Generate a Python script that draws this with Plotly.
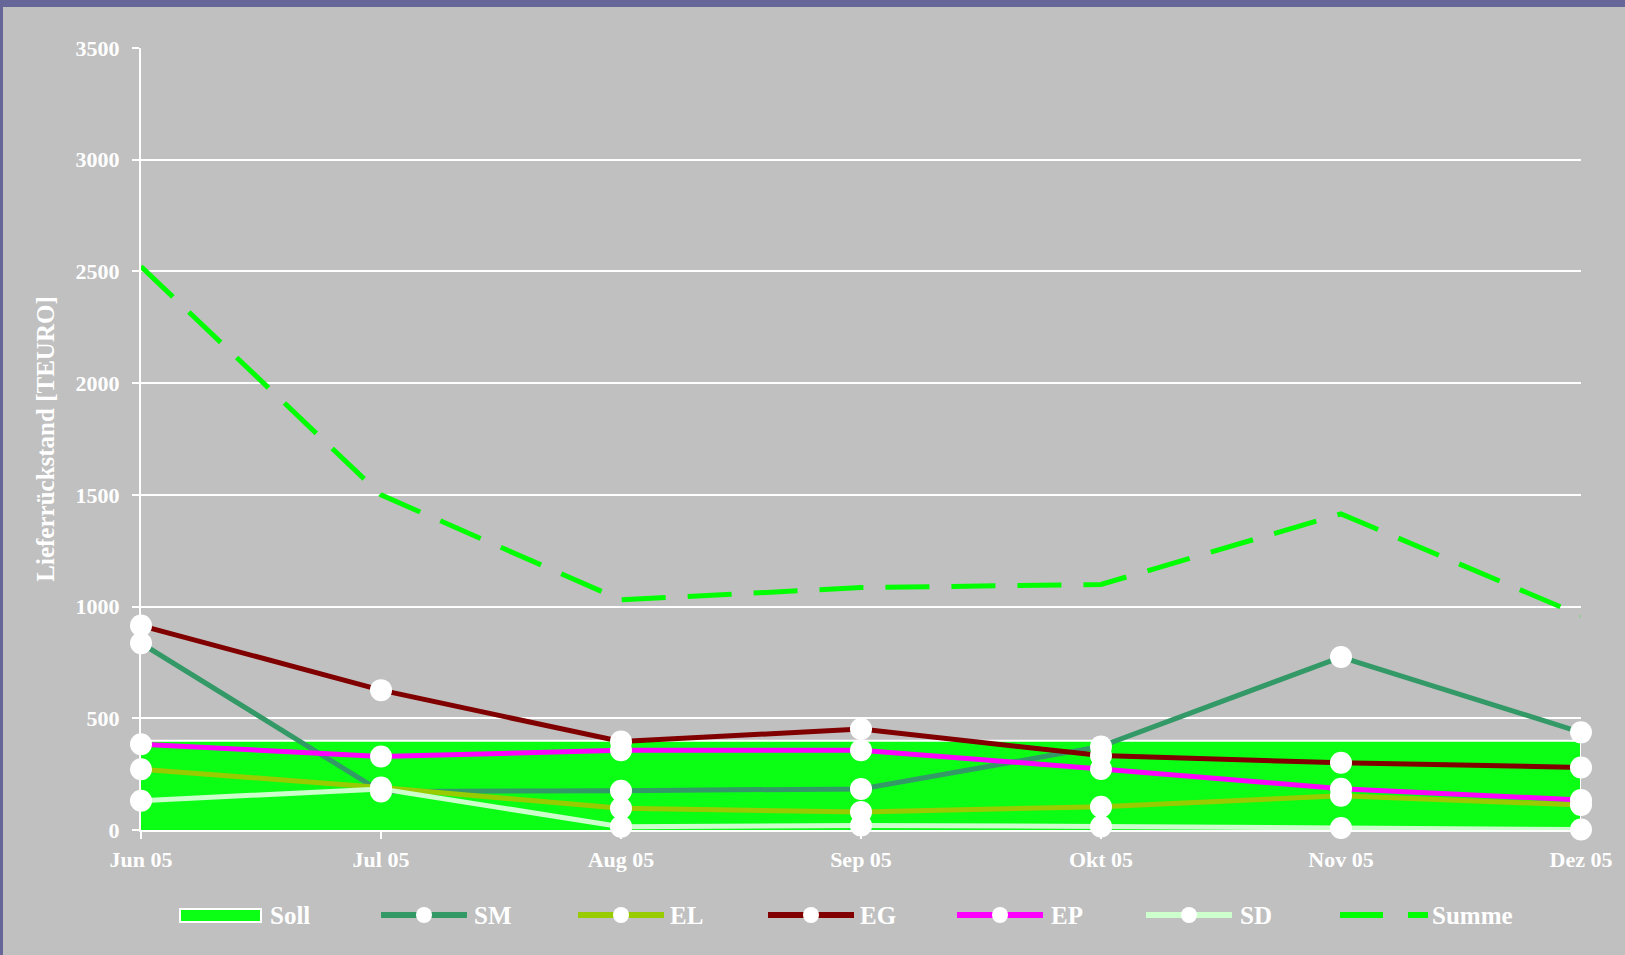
import plotly.graph_objects as go

# ---- data ----
months = ["Jun 05", "Jul 05", "Aug 05", "Sep 05", "Okt 05", "Nov 05", "Dez 05"]
soll = [400, 400, 400, 400, 400, 400, 400]
sm = [836, 172, 176, 184, 374, 774, 437]
el = [272, 190, 97, 81, 104, 153, 112]
eg = [915, 626, 396, 452, 333, 301, 280]
ep = [384, 329, 357, 357, 273, 185, 134]
sd = [131, 184, 15, 20, 16, 9, 2]
summe = [2522, 1500, 1030, 1085, 1099, 1415, 960]
y_ticks = [0, 500, 1000, 1500, 2000, 2500, 3000, 3500]

# ---- style ----
W, H = 1625, 955
L, R, T, B = 141, 1581, 48, 830
BG = "#C0C0C0"
BORDER = "#666699"
WHITE = "#FFFFFF"
FONT = "Liberation Serif"
C_SOLL = "#0AFF14"
C_SM = "#339966"
C_EL = "#99CC00"
C_EG = "#800000"
C_EP = "#FF00FF"
C_SD = "#CCFFCC"
C_SUM = "#00FF00"


def px(x):
    return (x - L) / (R - L)


def py(y):
    return (B - y) / (B - T)


fig = go.Figure()

# Soll area, outline closed down to the baseline at the last month
fig.add_trace(go.Scatter(x=months + [months[-1]], y=soll + [0], name="Soll", mode="lines",
                         fill="tozeroy", fillcolor=C_SOLL,
                         line=dict(color=WHITE, width=2), cliponaxis=False))

series = [("SM", sm, C_SM), ("EL", el, C_EL), ("EG", eg, C_EG),
          ("EP", ep, C_EP), ("SD", sd, C_SD)]
for name, vals, col in series:
    fig.add_trace(go.Scatter(x=months, y=vals, name=name, mode="lines+markers",
                             line=dict(color=col, width=5),
                             marker=dict(color=WHITE, size=22, line=dict(width=0)),
                             cliponaxis=False))

fig.add_trace(go.Scatter(x=months, y=summe, name="Summe", mode="lines",
                         line=dict(color=C_SUM, width=5, dash="44px,22px"),
                         cliponaxis=False))

shapes = []
# background / border
shapes.append(dict(type="rect", xref="paper", yref="paper", layer="below",
                   x0=px(0), x1=px(W), y0=py(H), y1=py(0),
                   fillcolor=BORDER, line=dict(width=0)))
shapes.append(dict(type="rect", xref="paper", yref="paper", layer="below",
                   x0=px(3), x1=px(W), y0=py(H), y1=py(7),
                   fillcolor=BG, line=dict(width=0)))

annotations = []
leg_y = 915
legfont = dict(family=FONT, size=25, color=WHITE, weight="bold")
# Soll legend swatch
shapes.append(dict(type="rect", xref="paper", yref="paper",
                   x0=px(180), x1=px(261), y0=py(922), y1=py(909),
                   fillcolor=C_SOLL, line=dict(color=WHITE, width=2)))
annotations.append(dict(text="Soll", x=px(268), y=py(leg_y), xref="paper", yref="paper",
                        xanchor="left", yanchor="middle", showarrow=False, font=legfont))

leg_items = [("SM", C_SM, 381, 472), ("EL", C_EL, 578, 668), ("EG", C_EG, 768, 858),
             ("EP", C_EP, 957, 1049), ("SD", C_SD, 1146, 1238)]
for name, col, x0, tx in leg_items:
    shapes.append(dict(type="line", xref="paper", yref="paper",
                       x0=px(x0), x1=px(x0 + 86), y0=py(leg_y), y1=py(leg_y),
                       line=dict(color=col, width=6)))
    cx = x0 + 43
    shapes.append(dict(type="circle", xref="paper", yref="paper",
                       x0=px(cx - 8), x1=px(cx + 8), y0=py(leg_y + 8), y1=py(leg_y - 8),
                       fillcolor=WHITE, line=dict(width=0)))
    annotations.append(dict(text=name, x=px(tx), y=py(leg_y), xref="paper", yref="paper",
                            xanchor="left", yanchor="middle", showarrow=False, font=legfont))

shapes.append(dict(type="line", xref="paper", yref="paper",
                   x0=px(1340), x1=px(1428), y0=py(leg_y), y1=py(leg_y),
                   line=dict(color=C_SUM, width=6, dash="43px,25px")))
annotations.append(dict(text="Summe", x=px(1430), y=py(leg_y), xref="paper", yref="paper",
                        xanchor="left", yanchor="middle", showarrow=False, font=legfont))

tickfont = dict(family=FONT, size=22, color=WHITE, weight="bold")

fig.update_layout(
    width=W, height=H,
    margin=dict(l=L, r=W - R, t=T, b=H - B, pad=0),
    paper_bgcolor=BG, plot_bgcolor=BG,
    showlegend=False,
    shapes=shapes, annotations=annotations,
    xaxis=dict(type="category", range=[0, len(months) - 1],
               showgrid=False, zeroline=False,
               showline=True, linecolor=WHITE, linewidth=2,
               ticks="outside", ticklen=7, tickwidth=2, tickcolor=WHITE,
               tickfont=tickfont, ticklabelstandoff=2),
    yaxis=dict(range=[0, 3500], tickvals=y_ticks,
               showgrid=True, gridcolor=WHITE, gridwidth=2,
               zeroline=False,
               showline=True, linecolor=WHITE, linewidth=2,
               ticks="outside", ticklen=7, tickwidth=2, tickcolor=WHITE,
               tickfont=tickfont, ticklabelstandoff=8,
               title=dict(text="Lieferrückstand [TEURO]", standoff=14,
                          font=dict(family=FONT, size=25, color=WHITE, weight="bold"))),
)

fig.write_html("out.html")
